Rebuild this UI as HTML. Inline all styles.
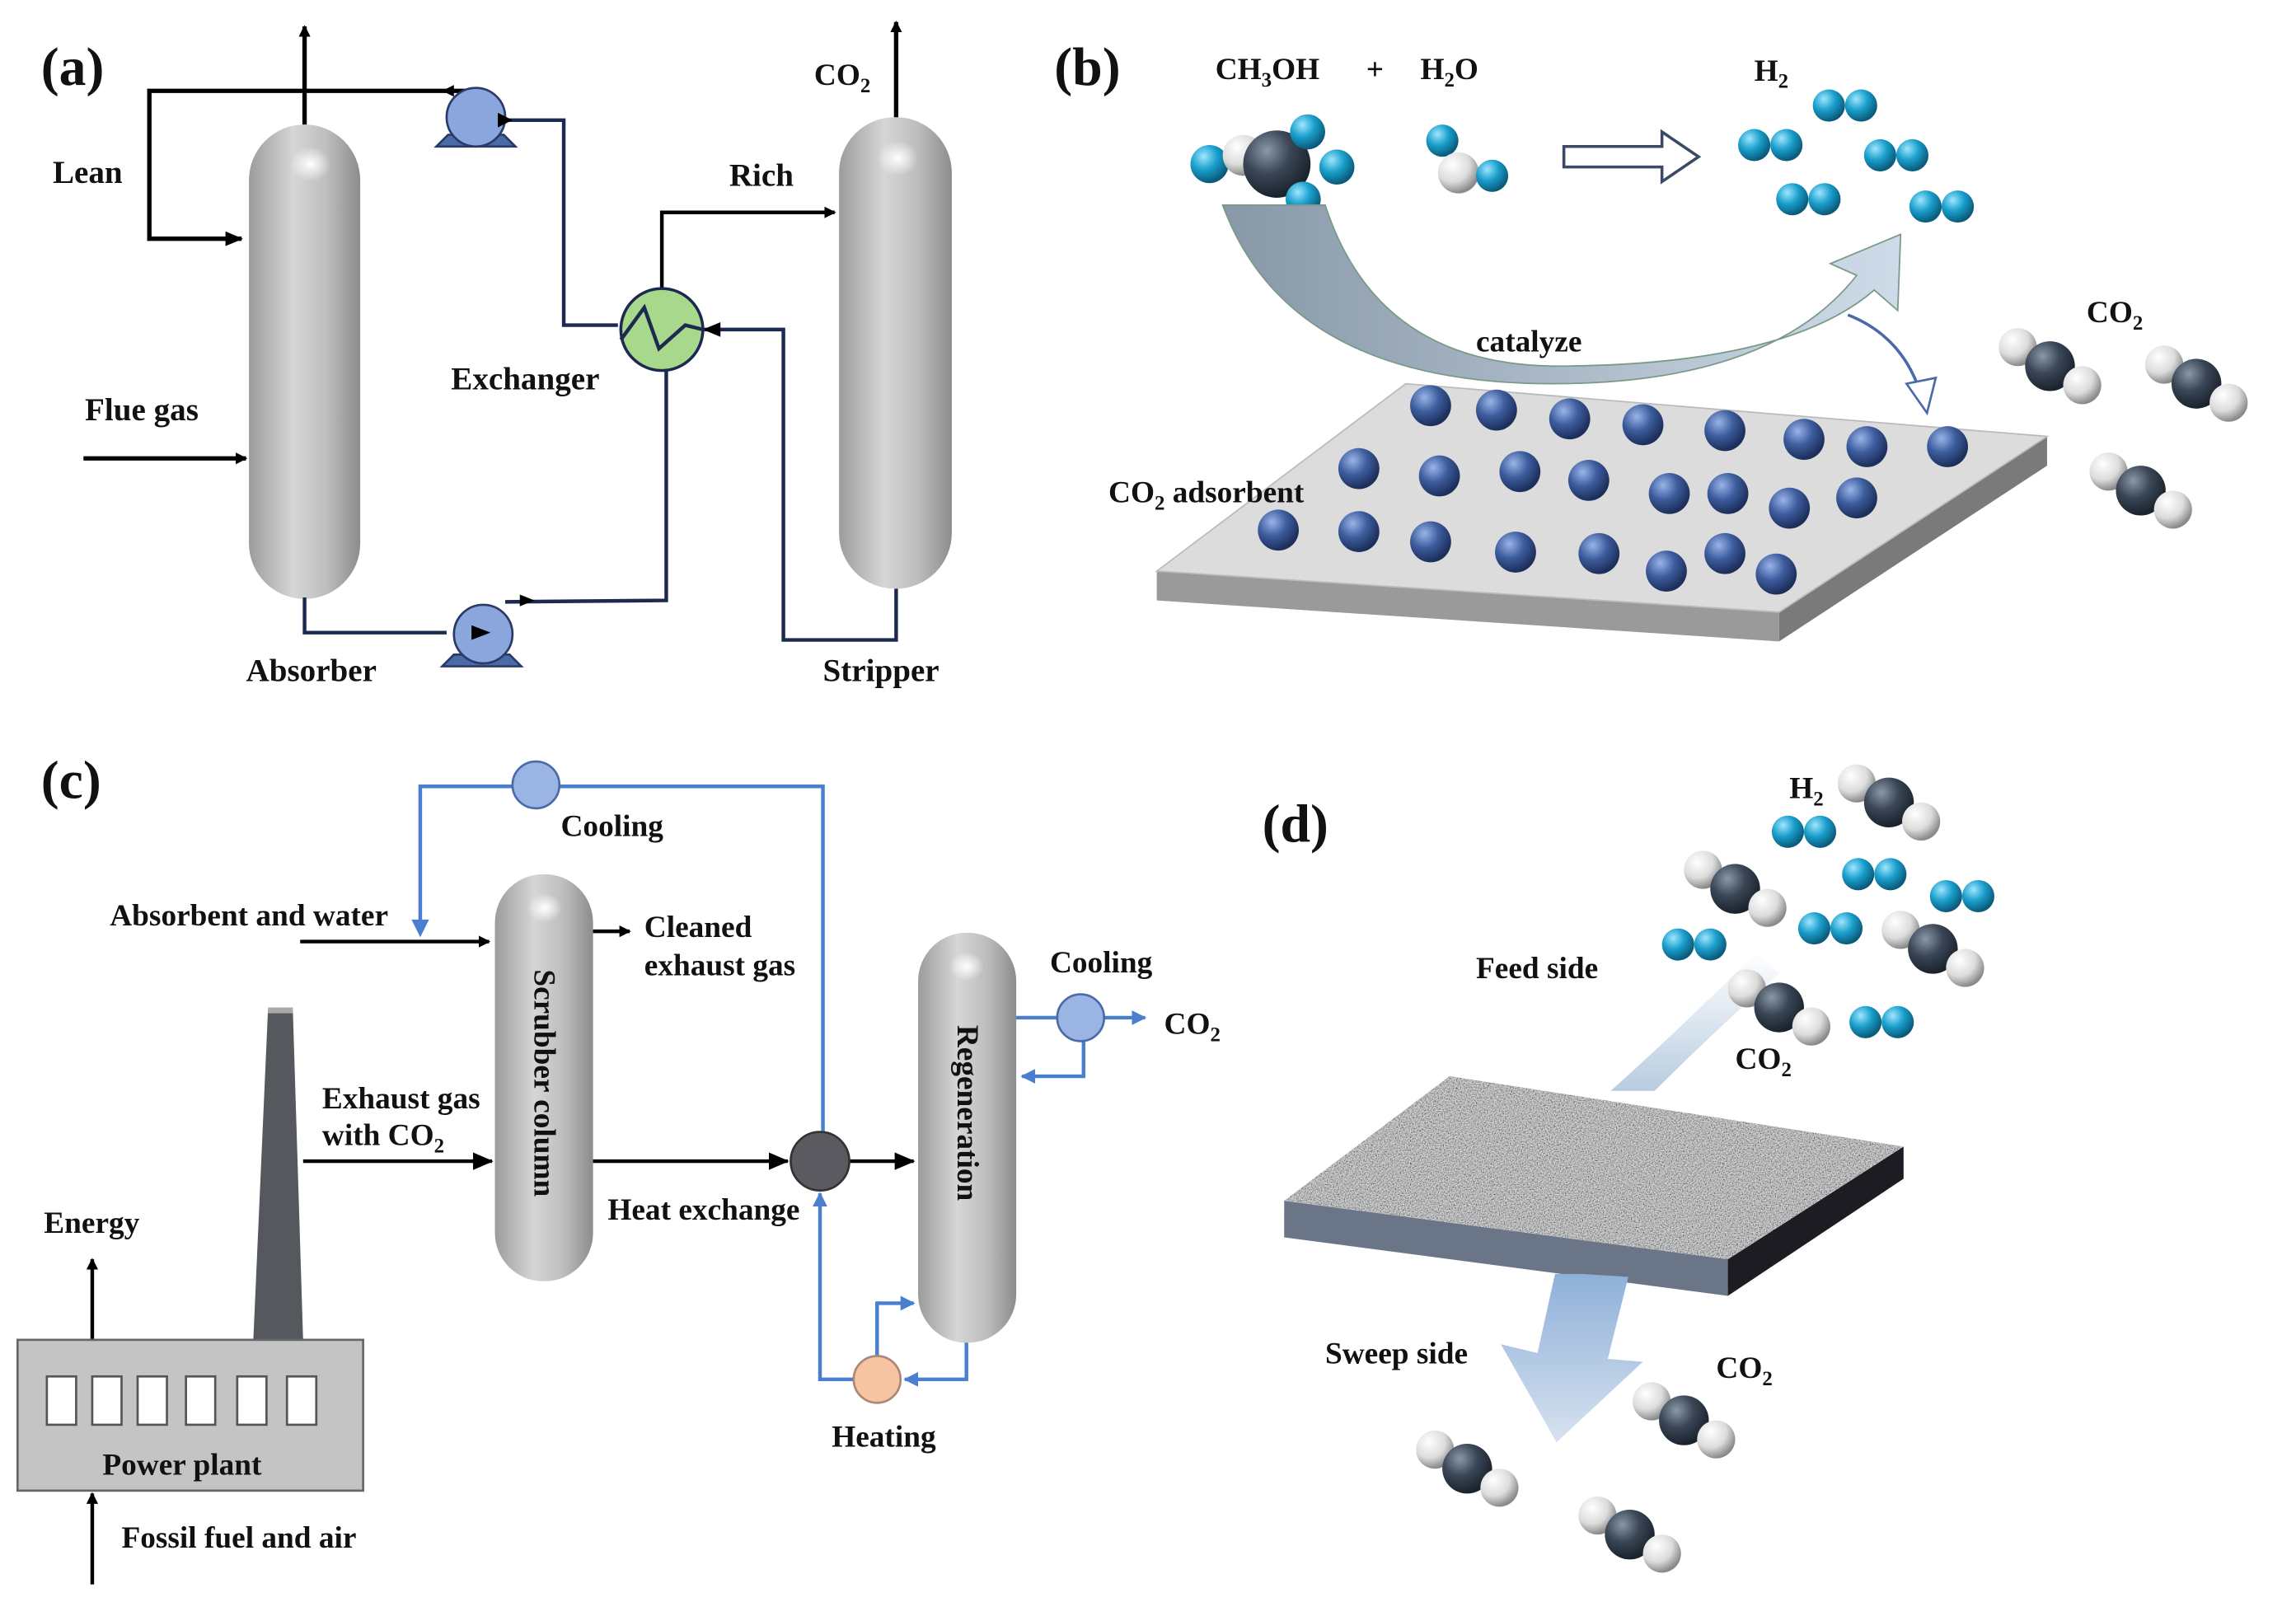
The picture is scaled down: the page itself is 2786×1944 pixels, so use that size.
<!DOCTYPE html>
<html><head><meta charset="utf-8"><style>
html,body{margin:0;padding:0;background:#fff;}
svg{display:block;}
text{font-family:"Liberation Serif",serif;font-weight:bold;fill:#111;}
</style></head><body>
<svg width="2786" height="1944" viewBox="0 0 1568 1094" xmlns="http://www.w3.org/2000/svg">
<defs>
<linearGradient id="col" x1="0" x2="1" y1="0" y2="0">
<stop offset="0" stop-color="#9c9c9c"/><stop offset="0.4" stop-color="#d6d6d6"/><stop offset="0.7" stop-color="#bdbdbd"/><stop offset="1" stop-color="#8c8c8c"/></linearGradient>
<radialGradient id="hl"><stop offset="0" stop-color="#fff"/><stop offset="1" stop-color="#fff" stop-opacity="0"/></radialGradient>
<radialGradient id="cy" cx="0.35" cy="0.3" r="0.7"><stop offset="0" stop-color="#9fe6ff"/><stop offset="0.5" stop-color="#1a9fcc"/><stop offset="1" stop-color="#0a5a7a"/></radialGradient>
<radialGradient id="dk" cx="0.35" cy="0.3" r="0.7"><stop offset="0" stop-color="#8a98a8"/><stop offset="0.5" stop-color="#3a4656"/><stop offset="1" stop-color="#1a222c"/></radialGradient>
<radialGradient id="wh" cx="0.35" cy="0.3" r="0.7"><stop offset="0" stop-color="#ffffff"/><stop offset="0.6" stop-color="#dcdcdc"/><stop offset="1" stop-color="#8a8a8a"/></radialGradient>
<radialGradient id="ad" cx="0.35" cy="0.3" r="0.7"><stop offset="0" stop-color="#9ab4e8"/><stop offset="0.5" stop-color="#3d5d9e"/><stop offset="1" stop-color="#1c2e5a"/></radialGradient>
<linearGradient id="carr" x1="0" x2="1" y1="0" y2="0"><stop offset="0" stop-color="#8898a8"/><stop offset="1" stop-color="#cfdbe8"/></linearGradient>
<linearGradient id="sw" x1="0" x2="0" y1="0" y2="1"><stop offset="0" stop-color="#8fb0d8"/><stop offset="1" stop-color="#d6e2f0"/></linearGradient>
<linearGradient id="fd" x1="0" x2="0" y1="0" y2="1"><stop offset="0" stop-color="#ffffff"/><stop offset="1" stop-color="#b8cce0"/></linearGradient>
<filter id="spk" x="0" y="0" width="1" height="1"><feTurbulence type="fractalNoise" baseFrequency="1.2" numOctaves="2" result="n"/><feColorMatrix in="n" type="matrix" values="1.6 0 0 0 -0.3  1.6 0 0 0 -0.3  1.6 0 0 0 -0.3  0 0 0 0 1" result="c"/><feComposite in="c" in2="SourceGraphic" operator="in"/></filter>
<marker id="ab" markerWidth="8" markerHeight="8" refX="7" refY="4" orient="auto" markerUnits="userSpaceOnUse"><path d="M0,0 L8,4 L0,8 Z" fill="#000"/></marker>
<marker id="ab2" markerWidth="14" markerHeight="12" refX="13" refY="6" orient="auto" markerUnits="userSpaceOnUse"><path d="M0,0 L14,6 L0,12 Z" fill="#000"/></marker>
<marker id="an" markerWidth="12" markerHeight="10" refX="11" refY="5" orient="auto" markerUnits="userSpaceOnUse"><path d="M0,0 L12,5 L0,10 Z" fill="#000"/></marker>
<marker id="abl" markerWidth="10" markerHeight="10" refX="9" refY="5" orient="auto" markerUnits="userSpaceOnUse"><path d="M0,0 L10,5 L0,10 Z" fill="#4a7fd0"/></marker>
<g id="co2"><circle cx="-22" cy="-13" r="13" fill="url(#wh)"/><circle cx="0" cy="0" r="17" fill="url(#dk)"/><circle cx="22" cy="13" r="13" fill="url(#wh)"/></g>
<g id="h2"><circle cx="-11" cy="0" r="11" fill="url(#cy)"/><circle cx="11" cy="0" r="11" fill="url(#cy)"/></g>
<circle id="as" r="14" fill="url(#ad)"/>
</defs>

<!-- ===== (a) ===== -->
<text x="28" y="58" font-size="37">(a)</text>
<rect x="170" y="85" width="76" height="324" rx="38" fill="url(#col)"/>
<ellipse cx="212" cy="112" rx="14" ry="12" fill="url(#hl)"/>
<rect x="573" y="80" width="77" height="322" rx="38" fill="url(#col)"/>
<ellipse cx="613" cy="108" rx="14" ry="12" fill="url(#hl)"/>
<g stroke="#000" stroke-width="3" fill="none">
<line x1="208" y1="85" x2="208" y2="18" marker-end="url(#ab)"/>
<path d="M318,62 L102,62 L102,163 L165,163" marker-end="url(#an)"/>
<line x1="57" y1="313" x2="168" y2="313" marker-end="url(#ab)"/>
<line x1="612" y1="80" x2="612" y2="15" marker-end="url(#ab)"/>
</g>
<g stroke="#000" stroke-width="2.5" fill="none">
<path d="M452,197 L452,145 L570,145" marker-end="url(#ab)"/>
</g>
<g stroke="#1c2a50" stroke-width="2.5" fill="none">
<path d="M345,82 L385,82 L385,222 L422,222"/>
<path d="M612,402 L612,437 L535,437 L535,225 L480,225"/>
<path d="M455,253 L455,410 L345,411"/>
<path d="M208,408 L208,432 L305,432"/>
</g>
<path d="M310,66 L302,62 L310,58" fill="#000"/>
<g stroke="#2a3a66" stroke-width="1.5">
<path d="M298,100 L352,100 L344,92 L306,92 Z" fill="#4a6aa8"/>
<circle cx="325" cy="80" r="20" fill="#8aa6dc"/>
<path d="M302,455 L356,455 L348,447 L310,447 Z" fill="#4a6aa8"/>
<circle cx="330" cy="433" r="20" fill="#8aa6dc"/>
</g>
<path d="M350,82 L340,77 L340,87 Z" fill="#000"/>
<path d="M335,432 L322,427 L322,437 Z" fill="#000"/>
<path d="M365,410 L355,406 L355,414 Z" fill="#000"/>
<path d="M480,225 L492,220 L492,230 Z" fill="#000"/>
<circle cx="452" cy="225" r="28" fill="#a8d88c" stroke="#1c2a50" stroke-width="2"/>
<path d="M424,232 L440,210 L450,238 L468,222 L480,225" stroke="#1c2a50" stroke-width="2.5" fill="none"/>
<text x="36" y="125" font-size="22">Lean</text>
<text x="58" y="287" font-size="22">Flue gas</text>
<text x="308" y="266" font-size="22">Exchanger</text>
<text x="498" y="127" font-size="22">Rich</text>
<text x="556" y="58" font-size="21">CO<tspan font-size="14" dy="5">2</tspan></text>
<text x="168" y="465" font-size="22">Absorber</text>
<text x="562" y="465" font-size="22">Stripper</text>

<!-- ===== (b) ===== -->
<text x="720" y="58" font-size="37">(b)</text>
<text x="830" y="54" font-size="21">CH<tspan font-size="14" dy="5">3</tspan><tspan dy="-5">OH</tspan></text>
<text x="933" y="54" font-size="21">+</text>
<text x="970" y="54" font-size="21">H<tspan font-size="14" dy="5">2</tspan><tspan dy="-5">O</tspan></text>
<text x="1198" y="55" font-size="21">H<tspan font-size="14" dy="5">2</tspan></text>
<circle cx="826" cy="112" r="13" fill="url(#cy)"/>
<circle cx="849" cy="106" r="14" fill="url(#wh)"/>
<circle cx="872" cy="112" r="23" fill="url(#dk)"/>
<circle cx="893" cy="90" r="12" fill="url(#cy)"/>
<circle cx="913" cy="114" r="12" fill="url(#cy)"/>
<circle cx="890" cy="136" r="12" fill="url(#cy)"/>
<circle cx="985" cy="96" r="11" fill="url(#cy)"/>
<circle cx="996" cy="118" r="14" fill="url(#wh)"/>
<circle cx="1019" cy="120" r="11" fill="url(#cy)"/>
<path d="M1068,100 L1135,100 L1135,90 L1160,107 L1135,124 L1135,114 L1068,114 Z" fill="#fff" stroke="#3a4a66" stroke-width="2"/>
<use href="#h2" x="1260" y="72"/><use href="#h2" x="1209" y="99"/><use href="#h2" x="1295" y="106"/><use href="#h2" x="1235" y="136"/><use href="#h2" x="1326" y="141"/>
<path d="M835,140 Q880,262 1060,262 Q1210,262 1268,188 L1250,180 L1298,160 L1296,212 L1280,198 Q1220,250 1060,250 Q940,248 905,140 Z" fill="url(#carr)" stroke="#7a9a88" stroke-width="1"/>
<path d="M1262,215 Q1300,230 1312,270" stroke="#4a6aa8" stroke-width="2" fill="none"/>
<path d="M1302,262 L1316,282 L1322,258 Z" fill="#fff" stroke="#4a6aa8" stroke-width="1.5"/>
<text x="1008" y="240" font-size="21">catalyze</text>
<path d="M790,390 L1215,418 L1215,438 L790,410 Z" fill="#9a9a9a"/>
<path d="M1215,418 L1398,298 L1398,318 L1215,438 Z" fill="#7a7a7a"/>
<path d="M790,390 L960,262 L1398,298 L1215,418 Z" fill="#dcdcdc" stroke="#bbb"/>
<g>
<use href="#as" x="977" y="277"/><use href="#as" x="1022" y="280"/><use href="#as" x="1072" y="286"/><use href="#as" x="1122" y="290"/><use href="#as" x="1178" y="294"/><use href="#as" x="1232" y="300"/><use href="#as" x="1275" y="305"/><use href="#as" x="1330" y="305"/>
<use href="#as" x="928" y="320"/><use href="#as" x="983" y="325"/><use href="#as" x="1038" y="322"/><use href="#as" x="1085" y="328"/><use href="#as" x="1140" y="337"/><use href="#as" x="1180" y="337"/><use href="#as" x="1222" y="347"/><use href="#as" x="1268" y="340"/>
<use href="#as" x="873" y="362"/><use href="#as" x="928" y="363"/><use href="#as" x="977" y="370"/><use href="#as" x="1035" y="377"/><use href="#as" x="1092" y="378"/><use href="#as" x="1138" y="390"/><use href="#as" x="1178" y="378"/><use href="#as" x="1213" y="392"/>
</g>
<text x="757" y="343" font-size="21">CO<tspan font-size="14" dy="5">2</tspan><tspan dy="-5"> adsorbent</tspan></text>
<text x="1425" y="220" font-size="21">CO<tspan font-size="14" dy="5">2</tspan></text>
<use href="#co2" x="1400" y="250"/><use href="#co2" x="1500" y="262"/><use href="#co2" x="1462" y="335"/>

<!-- ===== (c) ===== -->
<text x="28" y="545" font-size="37">(c)</text>
<g stroke="#4a7fd0" stroke-width="2.5" fill="none">
<path d="M287,637 L287,537 L562,537 L562,775"/>
<path d="M583,942 L560,942 L560,815" marker-end="url(#abl)"/>
<path d="M599,926 L599,890 L624,890" marker-end="url(#abl)"/>
<path d="M660,915 L660,942 L618,942" marker-end="url(#abl)"/>
<path d="M693,695 L722,695"/>
<line x1="754" y1="695" x2="782" y2="695" marker-end="url(#abl)"/>
<path d="M740,711 L740,735 L698,735" marker-end="url(#abl)"/>
</g>
<path d="M281,628 L287,640 L293,628 Z" fill="#4a7fd0"/>
<circle cx="366" cy="536" r="16" fill="#9ab4e4" stroke="#4a6aa8" stroke-width="1.5"/>
<rect x="338" y="597" width="67" height="278" rx="33" fill="url(#col)"/>
<ellipse cx="372" cy="620" rx="12" ry="10" fill="url(#hl)"/>
<rect x="627" y="637" width="67" height="280" rx="33" fill="url(#col)"/>
<ellipse cx="660" cy="660" rx="12" ry="10" fill="url(#hl)"/>
<text font-size="21" transform="translate(365,662) rotate(90)">Scrubber column</text>
<text font-size="21" transform="translate(654,700) rotate(90)">Regeneration</text>
<g stroke="#000" stroke-width="2.5" fill="none">
<line x1="205" y1="643" x2="334" y2="643" marker-end="url(#ab)"/>
<line x1="405" y1="636" x2="430" y2="636" marker-end="url(#ab)"/>
<line x1="207" y1="793" x2="336" y2="793" marker-end="url(#ab2)"/>
<line x1="405" y1="793" x2="538" y2="793" marker-end="url(#ab2)"/>
<line x1="580" y1="793" x2="624" y2="793" marker-end="url(#ab2)"/>
<line x1="63" y1="915" x2="63" y2="860" marker-end="url(#ab)"/>
<line x1="63" y1="1082" x2="63" y2="1020" marker-end="url(#ab)"/>
</g>
<circle cx="560" cy="793" r="20" fill="#5a5a60" stroke="#333" stroke-width="1.5"/>
<circle cx="599" cy="942" r="16" fill="#f6c4a0" stroke="#aa8877" stroke-width="1.5"/>
<circle cx="738" cy="695" r="16" fill="#9ab4e4" stroke="#4a6aa8" stroke-width="1.5"/>
<path d="M173,915 L183,690 L200,690 L207,915 Z" fill="#55585c"/>
<rect x="183" y="688" width="17" height="4" fill="#aaa"/>
<rect x="12" y="915" width="236" height="103" fill="#c4c4c4" stroke="#666" stroke-width="1.5"/>
<g fill="#fff" stroke="#555" stroke-width="1.5">
<rect x="32" y="940" width="20" height="33"/><rect x="63" y="940" width="20" height="33"/><rect x="94" y="940" width="20" height="33"/><rect x="127" y="940" width="20" height="33"/><rect x="162" y="940" width="20" height="33"/><rect x="196" y="940" width="20" height="33"/>
</g>
<text x="70" y="1007" font-size="21">Power plant</text>
<text x="30" y="842" font-size="21">Energy</text>
<text x="83" y="1057" font-size="21">Fossil fuel and air</text>
<text x="75" y="632" font-size="21">Absorbent and water</text>
<text x="440" y="640" font-size="21">Cleaned</text>
<text x="440" y="666" font-size="21">exhaust gas</text>
<text x="220" y="757" font-size="21">Exhaust gas</text>
<text x="220" y="782" font-size="21">with CO<tspan font-size="14" dy="5">2</tspan></text>
<text x="415" y="833" font-size="21">Heat exchange</text>
<text x="383" y="571" font-size="21">Cooling</text>
<text x="717" y="664" font-size="21">Cooling</text>
<text x="795" y="706" font-size="21">CO<tspan font-size="14" dy="5">2</tspan></text>
<text x="568" y="988" font-size="21">Heating</text>

<!-- ===== (d) ===== -->
<text x="862" y="575" font-size="37">(d)</text>
<path d="M1200,650 Q1150,700 1100,745 L1130,745 Q1170,705 1215,665 Z" fill="url(#fd)"/>
<path d="M877,820 L1180,860 L1180,885 L877,845 Z" fill="#6a7688"/>
<path d="M1180,860 L1300,783 L1300,805 L1180,885 Z" fill="#1c1c22"/>
<path d="M877,820 L990,735 L1300,783 L1180,860 Z" fill="#a4a6aa"/>
<path d="M877,820 L990,735 L1300,783 L1180,860 Z" fill="#fff" filter="url(#spk)" opacity="0.75"/>
<path d="M1080,870 L1112,872 L1098,928 L1122,930 L1063,985 L1025,918 L1050,924 L1062,870 Z" fill="url(#sw)"/>
<use href="#co2" x="1290" y="548"/><use href="#co2" x="1185" y="607"/><use href="#co2" x="1320" y="648"/><use href="#co2" x="1215" y="688"/>
<use href="#h2" x="1232" y="568"/><use href="#h2" x="1280" y="597"/><use href="#h2" x="1340" y="612"/><use href="#h2" x="1250" y="634"/><use href="#h2" x="1157" y="645"/><use href="#h2" x="1285" y="698"/>
<use href="#co2" x="1002" y="1003"/><use href="#co2" x="1150" y="970"/><use href="#co2" x="1113" y="1048"/>
<text x="1222" y="545" font-size="21">H<tspan font-size="14" dy="5">2</tspan></text>
<text x="1008" y="668" font-size="21">Feed side</text>
<text x="1185" y="730" font-size="21">CO<tspan font-size="14" dy="5">2</tspan></text>
<text x="905" y="931" font-size="21">Sweep side</text>
<text x="1172" y="941" font-size="21">CO<tspan font-size="14" dy="5">2</tspan></text>
</svg>
</body></html>
